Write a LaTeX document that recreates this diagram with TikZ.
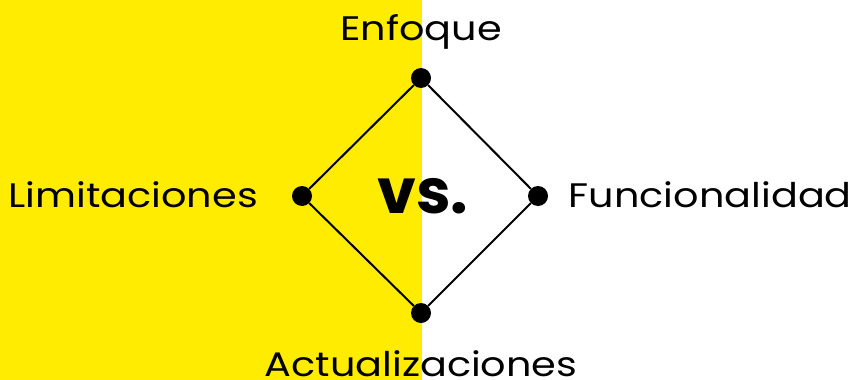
\documentclass[tikz,border=0pt]{standalone}
\usepackage{fontspec}
\setmainfont{Poppins}
\newfontfamily\widefont[FakeStretch=1.17]{Poppins}
\usepackage{tikz}

\definecolor{bgyellow}{RGB}{255,236,0}

\begin{document}
\begin{tikzpicture}[x=1pt, y=-1pt,
    dot/.style={circle, fill=black, inner sep=0pt, minimum size=20pt},
    lbl/.style={inner sep=0pt, font=\widefont\fontsize{34}{40}\selectfont},
    edge/.style={line width=2pt}]
    \useasboundingbox (0,0) rectangle (854,380);
    \fill[bgyellow] (0,0) rectangle (422,380);
          % corners of the diamond
          \node[dot] (top) at (421,78) {};
          \node[dot] (left) at (302,196) {};
          \node[dot] (right) at (538,196) {};
          \node[dot] (bottom) at (421,313) {};
          \draw[edge] (top) -- (right) -- (bottom) -- (left) -- (top);
          % labels
          \node[lbl, anchor=base] (enfoque) at (421,40) {Enfoque};
          \node[lbl, anchor=base east] (limit) at (258,207) {Limitaciones};
          \node[lbl, anchor=base east] (func) at (852,207) {Funcionalidad};
          \node[lbl, anchor=base] (actual) at (421,376) {Actualizaciones};
          \node[inner sep=0pt, anchor=base, font=\fontsize{62}{70}\selectfont\bfseries] (vs) at (423,213) {vs.};
    \end{tikzpicture}
\end{document}
